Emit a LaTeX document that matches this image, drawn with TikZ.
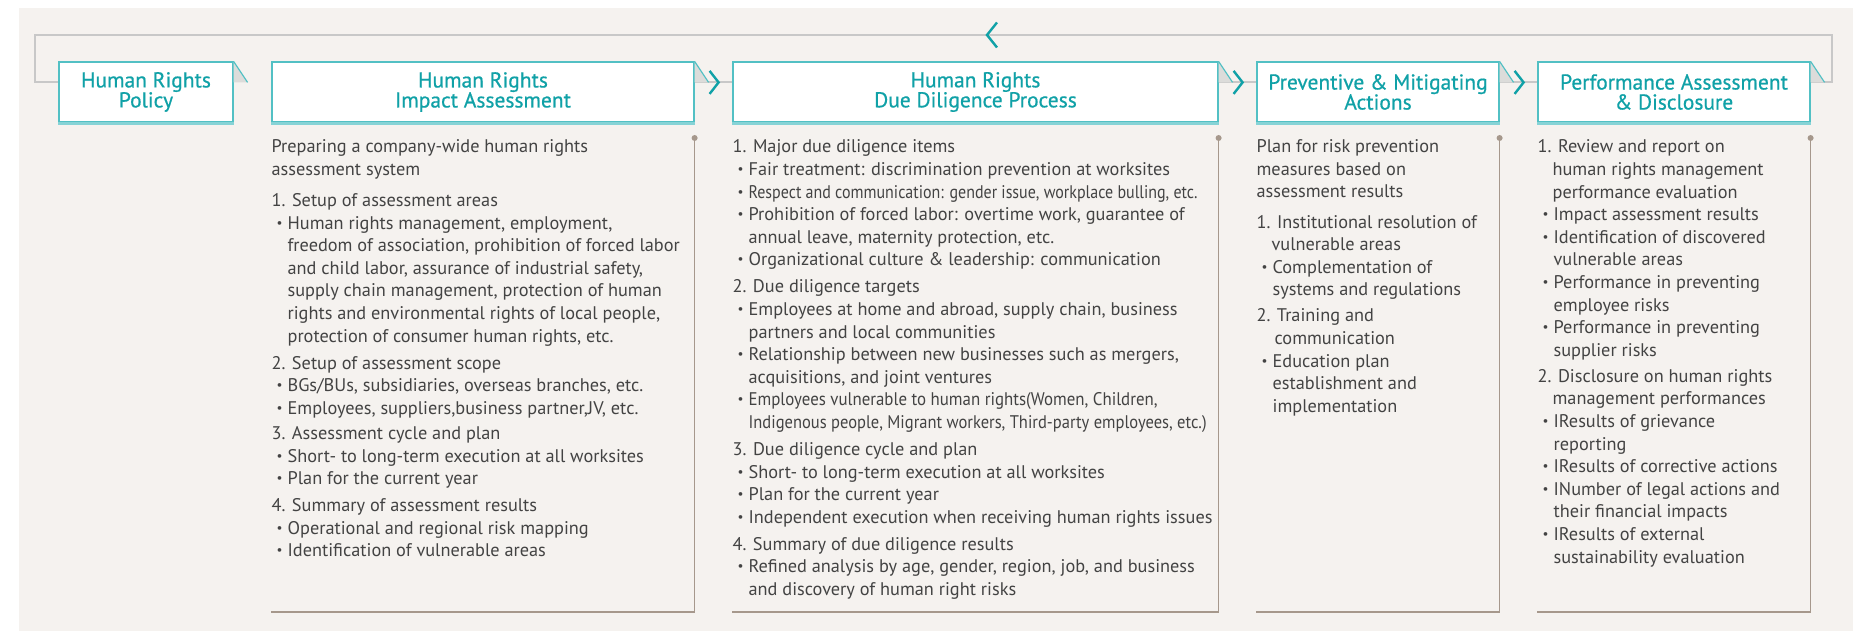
\documentclass[tikz,border=0pt]{standalone}
\usepackage{fontspec}
\setmainfont{PT Sans}
\newfontfamily\headfont[FakeBold=0.6]{PT Sans}
\usepackage{graphicx}
\usepackage{tikz}
\usetikzlibrary{calc,positioning}
\definecolor{PaperBeige}{HTML}{F5F2EF}
\definecolor{HeadTeal}{HTML}{10A1A7}
\definecolor{EdgeTeal}{HTML}{52C0C4}
\definecolor{LoopGray}{HTML}{C8C8C8}
\definecolor{TabGray}{HTML}{DCDCDA}
\definecolor{BodyGray}{HTML}{434343}
\definecolor{PanelBrown}{HTML}{A6988C}
\newcommand{\itembul}{\hspace*{5pt}\makebox[11pt][l]{\raisebox{.22ex}{\scalebox{.72}{\textbullet}}}}
\newcommand{\itemcont}{\hspace*{16pt}}
\newcommand{\numcont}{\hspace*{15pt}}
\newcommand{\squeeze}[2]{\resizebox{#1}{\height}{#2}}

\begin{document}
\begin{tikzpicture}[x=1pt,y=-1pt,
  stage/.style={draw=EdgeTeal,line width=1.2pt,fill=white,minimum height=60pt,
    inner sep=0pt,align=center,text=HeadTeal,font=\headfont\fontsize{21.5}{20}\selectfont},
  body/.style={anchor=north west,inner sep=0pt,align=left,text=BodyGray,
    font=\fontsize{18.3}{22.6}\selectfont},
  loopline/.style={LoopGray,line width=1.8pt},
  chev/.style={HeadTeal,line width=2.4pt},
  panel/.style={PanelBrown,line width=1.2pt}]
  \useasboundingbox (0,0) rectangle (1853,631);
  \fill[PaperBeige] (19,8) rectangle (1853,631);
  % process stages
  \node[stage,minimum width=174pt] (policy) at (146,92) {Human Rights\\Policy};
  \node[stage,minimum width=422pt] (impact) at (483,92) {Human Rights\\Impact Assessment};
  \node[stage,minimum width=485pt] (diligence) at (975.5,92) {Human Rights\\Due Diligence Process};
  \node[stage,minimum width=242pt] (prevent) at (1378,92) {Preventive \& Mitigating\\Actions};
  \node[stage,minimum width=272pt] (perform) at (1674,92) {Performance Assessment\\\& Disclosure};
  \foreach \b in {policy,impact,diligence,prevent,perform}{
    \coordinate (\b-in) at ($(\b.north west)+(0,21)$);
    \coordinate (\b-out) at ($(\b.north east)+(0,21)$);
  }
  \coordinate (loopR) at (1832,35);
  \coordinate (loopL) at (35,35);
  \coordinate (loopmid) at (987,35);
  \coordinate (ceil) at (0,138);
  \coordinate (floor) at (0,612);
  % flow and feedback loop
  \draw[loopline] (impact-out) -- (diligence-in);
  \draw[loopline] (diligence-out) -- (prevent-in);
  \draw[loopline] (prevent-out) -- (perform-in);
  \draw[loopline] (perform-out) -| (loopR) -- (loopL) |- (policy-in);
  \foreach \b in {policy,impact,diligence,prevent,perform}{
    \fill[TabGray] (\b.north east) -- ($(\b-out)+(14,0)$) -- (\b-out) -- cycle;
    \draw[EdgeTeal,line width=1.2pt] (\b.north east) -- ($(\b-out)+(14,0)$);
    \draw[EdgeTeal!70,line width=2.4pt] ([yshift=-1pt]\b.south west) -- ([yshift=-1pt]\b.south east);
  }
  \foreach \b in {impact,diligence,prevent}{
    \draw[chev] ($(\b-out)+(15,-11.5)$) -- ($(\b-out)+(24,0)$) -- ($(\b-out)+(15,11.5)$);
  }
  \draw[chev] ($(loopmid)+(10,-12.5)$) -- (loopmid) -- ($(loopmid)+(10,12.5)$);
  % detail panels
  \foreach \b in {impact,diligence,prevent,perform}{
    \draw[panel] (\b.west |- floor) -- (\b.east |- floor) -- (\b.east |- ceil);
    \fill[PanelBrown] (\b.east |- ceil) circle (3pt);
  }
  \node[below=17pt of impact.south west,body] (impacttxt) {%
    Preparing a company-wide human rights\\
    assessment system\\[8.5pt]
    1. Setup of assessment areas\\
    \itembul Human rights management, employment,\\
    \itemcont freedom of association, prohibition of forced labor\\
    \itemcont and child labor, assurance of industrial safety,\\
    \itemcont supply chain management, protection of human\\
    \itemcont rights and environmental rights of local people,\\
    \itemcont protection of consumer human rights, etc.\\[4.5pt]
    2. Setup of assessment scope\\
    \itembul BGs/BUs, subsidiaries, overseas branches, etc.\\
    \itembul Employees, suppliers,business partner,JV, etc.\\[2.5pt]
    3. Assessment cycle and plan\\
    \itembul Short- to long-term execution at all worksites\\
    \itembul Plan for the current year\\[4.5pt]
    4. Summary of assessment results\\
    \itembul Operational and regional risk mapping\\
    \itembul Identification of vulnerable areas};
  \node[below=17pt of diligence.south west,body] (diligencetxt) {%
    1. Major due diligence items\\
    \itembul Fair treatment: discrimination prevention at worksites\\
    \itembul \squeeze{449pt}{Respect and communication: gender issue, workplace bulling, etc.}\\
    \itembul Prohibition of forced labor: overtime work, guarantee of\\
    \itemcont annual leave, maternity protection, etc.\\
    \itembul Organizational culture \& leadership: communication\\[4.5pt]
    2. Due diligence targets\\
    \itembul Employees at home and abroad, supply chain, business\\
    \itemcont partners and local communities\\
    \itembul Relationship between new businesses such as mergers,\\
    \itemcont acquisitions, and joint ventures\\
    \itembul \squeeze{409pt}{Employees vulnerable to human rights(Women, Children,}\\
    \itemcont \squeeze{458pt}{Indigenous people, Migrant workers, Third-party employees, etc.)}\\[4.5pt]
    3. Due diligence cycle and plan\\
    \itembul Short- to long-term execution at all worksites\\
    \itembul Plan for the current year\\
    \itembul Independent execution when receiving human rights issues\\[4pt]
    4. Summary of due diligence results\\
    \itembul Refined analysis by age, gender, region, job, and business\\
    \itemcont and discovery of human right risks};
  \node[below=17pt of prevent.south west,body] (preventtxt) {%
    Plan for risk prevention\\
    measures based on\\
    assessment results\\[7.5pt]
    1. Institutional resolution of\\
    \numcont vulnerable areas\\
    \itembul Complementation of\\
    \itemcont systems and regulations\\[3.5pt]
    2. Training and\\
    \hspace*{18pt}communication\\
    \itembul Education plan\\
    \itemcont establishment and\\
    \itemcont implementation};
  \node[below=17pt of perform.south west,body] (performtxt) {%
    1. Review and report on\\
    \numcont human rights management\\
    \numcont performance evaluation\\
    \itembul Impact assessment results\\
    \itembul Identification of discovered\\
    \itemcont vulnerable areas\\
    \itembul Performance in preventing\\
    \itemcont employee risks\\
    \itembul Performance in preventing\\
    \itemcont supplier risks\\[3.5pt]
    2. Disclosure on human rights\\
    \numcont management performances\\
    \itembul IResults of grievance\\
    \itemcont reporting\\
    \itembul IResults of corrective actions\\
    \itembul INumber of legal actions and\\
    \itemcont their financial impacts\\
    \itembul IResults of external\\
    \itemcont sustainability evaluation};
\end{tikzpicture}
\end{document}
